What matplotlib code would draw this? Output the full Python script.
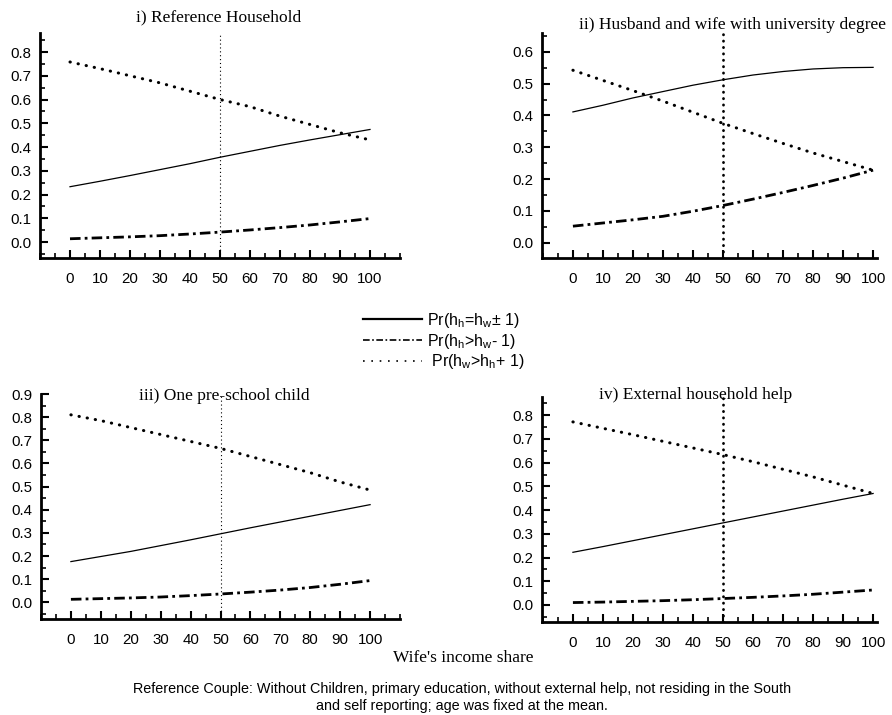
import matplotlib
matplotlib.use("Agg")
import matplotlib.pyplot as plt
from matplotlib.lines import Line2D
from matplotlib.ticker import MultipleLocator

plt.rcParams["font.family"] = ["Liberation Sans", "DejaVu Sans"]
plt.rcParams["mathtext.default"] = "regular"

# ── Data ─────────────────────────────────────────────────────────────────────
share = [0, 10, 20, 30, 40, 50, 60, 70, 80, 90, 100]

titles = [
    "i) Reference Household",
    "ii) Husband and wife with university degree",
    "iii) One pre-school child",
    "iv) External household help",
]

# Pr(hh = hw ± 1)
equal_i = [0.233, 0.256, 0.280, 0.305, 0.330, 0.357, 0.382, 0.407, 0.430, 0.452, 0.474]
equal_ii = [0.411, 0.432, 0.455, 0.475, 0.495, 0.512, 0.527, 0.538, 0.546, 0.550, 0.551]
equal_iii = [0.176, 0.198, 0.220, 0.245, 0.270, 0.296, 0.322, 0.347, 0.372, 0.397, 0.422]
equal_iv = [0.222, 0.246, 0.271, 0.296, 0.321, 0.346, 0.371, 0.396, 0.421, 0.446, 0.470]

# Pr(hh > hw - 1)
husb_i = [0.014, 0.018, 0.022, 0.027, 0.034, 0.042, 0.051, 0.061, 0.072, 0.085, 0.099]
husb_ii = [0.052, 0.062, 0.072, 0.083, 0.099, 0.117, 0.137, 0.158, 0.180, 0.203, 0.228]
husb_iii = [0.013, 0.016, 0.019, 0.023, 0.029, 0.036, 0.044, 0.053, 0.064, 0.078, 0.094]
husb_iv = [0.010, 0.012, 0.015, 0.018, 0.022, 0.027, 0.032, 0.038, 0.045, 0.054, 0.063]

# Pr(hw > hh + 1)
wife_i = [0.758, 0.730, 0.700, 0.670, 0.635, 0.600, 0.570, 0.530, 0.495, 0.460, 0.430]
wife_ii = [0.542, 0.510, 0.478, 0.445, 0.410, 0.375, 0.343, 0.312, 0.282, 0.255, 0.228]
wife_iii = [0.810, 0.785, 0.755, 0.725, 0.695, 0.665, 0.630, 0.595, 0.560, 0.520, 0.485]
wife_iv = [0.772, 0.745, 0.718, 0.690, 0.662, 0.634, 0.604, 0.572, 0.540, 0.505, 0.470]

legend_labels = [
    "Pr(h$_h$=h$_w$± 1)",
    "Pr(h$_h$>h$_w$- 1)",
    " Pr(h$_w$>h$_h$+ 1)",
]

# ── Layout ───────────────────────────────────────────────────────────────────
W, H = 892, 715
# (left, top, right, bottom) in pixels
boxes = [(40, 33, 400, 258), (542, 33, 877, 258),
         (41, 394, 400, 619), (542, 397, 877, 622)]
xlims = [(-10, 110), (-10.3, 101.3), (-10, 110), (-10.3, 101.3)]
ylims = [(-0.067, 0.88), (-0.048, 0.659), (-0.072, 0.9), (-0.072, 0.877)]
ymax_tick = [0.8, 0.6, 0.9, 0.8]
title_pos = [(0.497, 1.071), (0.568, 1.036), (0.51, 0.991), (0.457, 1.0075)]
vline_thick = [False, True, False, True]

equal = [equal_i, equal_ii, equal_iii, equal_iv]
husb = [husb_i, husb_ii, husb_iii, husb_iv]
wife = [wife_i, wife_ii, wife_iii, wife_iv]

DASHDOT = (0, (3.8, 1.5, 1, 1.5))
DOTTED = (0, (0.1, 2.6))

fig = plt.figure(figsize=(W / 100, H / 100), dpi=100)

for k in range(4):
    l, t, r, b = boxes[k]
    ax = fig.add_axes([l / W, 1 - b / H, (r - l) / W, (b - t) / H])

    ax.plot(share, equal[k], color="black", lw=0.9)
    ax.plot(share, husb[k], color="black", lw=2.0, linestyle=DASHDOT)
    ax.plot(share, wife[k], color="black", lw=2.2, linestyle=DOTTED,
            dash_capstyle="round")

    if vline_thick[k]:
        ax.axvline(50, color="black", lw=2.0, linestyle=(0, (0.1, 2.2)),
                   dash_capstyle="round")
    else:
        ax.axvline(50, color="black", lw=0.8, linestyle=(0, (1, 2.5)))

    ax.set_xlim(*xlims[k])
    ax.set_ylim(*ylims[k])

    for side in ("top", "right"):
        ax.spines[side].set_visible(False)
    for side in ("left", "bottom"):
        ax.spines[side].set_linewidth(2.0)

    ax.set_xticks(range(0, 101, 10))
    ax.xaxis.set_minor_locator(MultipleLocator(5))
    yt = [round(v * 0.1, 1) for v in range(0, int(round(ymax_tick[k] * 10)) + 1)]
    ax.set_yticks(yt)
    ax.set_yticklabels([f"{v:.1f}" for v in yt])
    ax.yaxis.set_minor_locator(MultipleLocator(0.05))

    ax.tick_params(axis="both", which="major", direction="in", length=6,
                   width=1.5, labelsize=10.8)
    ax.tick_params(axis="both", which="minor", direction="in", length=3.5,
                   width=1.2)
    ax.tick_params(axis="x", which="major", pad=10)
    ax.tick_params(axis="y", which="major", pad=6)

    tx, ty = title_pos[k]
    ax.text(tx, ty, titles[k], transform=ax.transAxes, ha="center",
            va="center", fontsize=12.5, family=["Liberation Serif", "DejaVu Serif"])

# ── Legend ───────────────────────────────────────────────────────────────────
handles = [
    Line2D([], [], color="black", lw=1.6),
    Line2D([], [], color="black", lw=1.2, linestyle=(0, (4, 1.5, 1, 1.5))),
    Line2D([], [], color="black", lw=1.2, linestyle=(0, (1, 4))),
]
fig.legend(handles, legend_labels, loc="center",
           bbox_to_anchor=(444 / W, 1 - 341 / H), frameon=False,
           fontsize=11.5, handlelength=3.7, handletextpad=0.3,
           labelspacing=0.12, borderpad=0)

# ── Footer ───────────────────────────────────────────────────────────────────
fig.text(463 / W, 1 - 658 / H, "Wife's income share", ha="center", va="center",
         fontsize=12.5, family=["Liberation Serif", "DejaVu Serif"])
fig.text(462 / W, 1 - 689 / H,
         "Reference Couple: Without Children, primary education, without external help, not residing in the South",
         ha="center", va="center", fontsize=10.4)
fig.text(462 / W, 1 - 706 / H, "and self reporting; age was fixed at the mean.",
         ha="center", va="center", fontsize=10.4)

fig.savefig("out.png", dpi=100)
plt.close(fig)
